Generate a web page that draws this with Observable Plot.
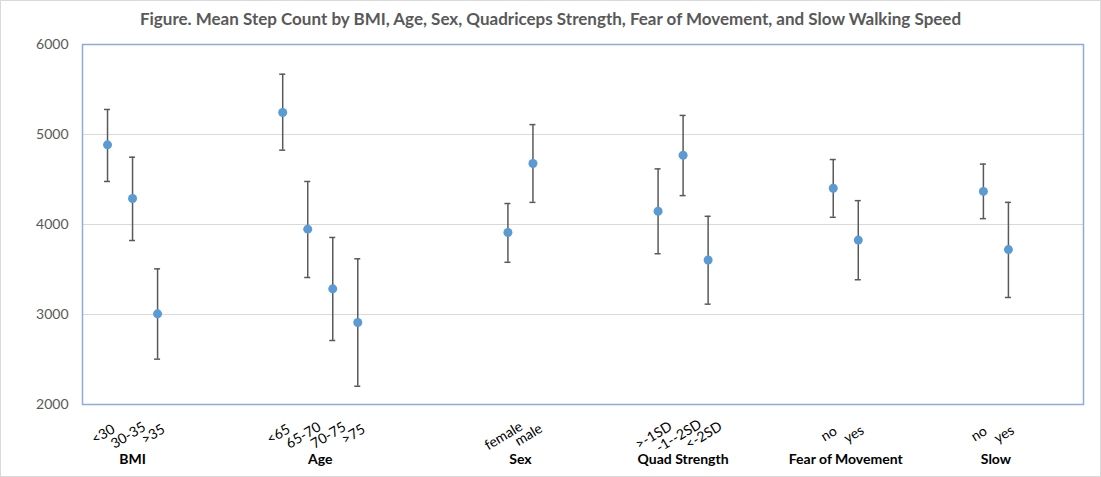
<!DOCTYPE html>
<html>
<head>
<meta charset="utf-8">
<script src="https://cdn.jsdelivr.net/npm/d3@7"></script>
<script src="https://cdn.jsdelivr.net/npm/@observablehq/plot@0.6"></script>
<style>
  body { margin: 0; background: #fff; }
  #wrap { position: relative; width: 1101px; height: 477px; font-family: Lato, "Open Sans", sans-serif; overflow: hidden; }
  #title { height: 30px; box-sizing: border-box; padding-top: 9px; line-height: 20px; text-align: center;
           font-weight: bold; font-size: 17px; color: #595959; }
  #border { position: absolute; left: 0; top: 0; width: 1099px; height: 475px; border: 1px solid #D9D9D9; pointer-events: none; }
  svg { display: block; }
</style>
</head>
<body>
<div id="wrap">
  <div id="title">Figure. Mean Step Count by BMI, Age, Sex, Quadriceps Strength, Fear of Movement, and Slow Walking Speed</div>
  <div id="chart"></div>
  <div id="border"></div>
</div>
<script>
// Category slots of the x axis (empty strings are the blank slots between groups)
const slots = ["", "<30", "30-35", ">35", "", "", "", "",
  "<65", "65-70", "70-75", ">75", "", "", "", "", "",
  "female", "male", "", "", "", "",
  ">-1SD", "-1--2SD", "<-2SD", "", "", "", "",
  "no", "yes", "", "", "", "",
  "no", "yes", "", ""];
const groupNames = ["BMI", "Age", "Sex", "Quad Strength", "Fear of Movement", "Slow"];
const groupSizes = [3, 4, 2, 3, 2, 2];
const meanSteps  = [4885, 4289, 3007, 5244, 3948, 3285, 2911, 3911, 4678, 4147, 4770, 3605, 4403, 3827, 4368, 3721];
const upperSteps = [5278, 4748, 3507, 5670, 4478, 3856, 3619, 4233, 5110, 4618, 5212, 4091, 4722, 4265, 4671, 4246];
const lowerSteps = [4478, 3822, 2504, 4826, 3411, 2711, 2203, 3580, 4246, 3675, 4321, 3115, 4080, 3386, 4065, 3189];
const yTicks = [2000, 3000, 4000, 5000, 6000];

// Build the table
const groupOfIndex = [];
groupSizes.forEach((n, g) => { for (let i = 0; i < n; i++) groupOfIndex.push(groupNames[g]); });
const rows = [];
slots.forEach((label, x) => {
  if (label === "") return;
  const k = rows.length;
  rows.push({ x, label, group: groupOfIndex[k], mean: meanSteps[k], upper: upperSteps[k], lower: lowerSteps[k] });
});
const groupRows = groupNames.map(g => {
  const xs = rows.filter(r => r.group === g).map(r => r.x);
  return { group: g, x: d3.mean(xs) };
});

const capHalf = 0.12;
const labelMarks = rows.map(r => {
  const L = r.label.length * 7;
  return Plot.text([r], {
    x: "x", text: "label", frameAnchor: "bottom", rotate: -31, textAnchor: "middle",
    dx: -2, dy: 32 + Math.min(L, 42) * 0.08, fontSize: 14, fill: "#000"
  });
});

const chart = Plot.plot({
  width: 1101,
  height: 447,
  marginLeft: 82,
  marginRight: 18,
  marginTop: 14,
  marginBottom: 73,
  x: { domain: [0, slots.length], axis: null },
  y: { domain: [2000, 6000], axis: null },
  style: { fontFamily: "Lato, 'Open Sans', sans-serif", background: "white", overflow: "visible" },
  marks: [
    Plot.gridY([3000, 4000, 5000], { stroke: "#D9D9D9", strokeOpacity: 1, strokeWidth: 1 }),
    Plot.frame({ stroke: "#8FAADC", strokeWidth: 1.5 }),
    Plot.axisY(yTicks, { tickSize: 0, tickPadding: 14, fontSize: 14, color: "#595959", label: null, tickFormat: d => String(d) }),
    Plot.ruleX(rows, { x: "x", y1: "lower", y2: "upper", stroke: "#595959", strokeWidth: 1.5 }),
    Plot.ruleY(rows, { y: "upper", x1: d => d.x - capHalf, x2: d => d.x + capHalf, stroke: "#595959", strokeWidth: 1.5 }),
    Plot.ruleY(rows, { y: "lower", x1: d => d.x - capHalf, x2: d => d.x + capHalf, stroke: "#595959", strokeWidth: 1.5 }),
    Plot.dot(rows, { x: "x", y: "mean", r: 4.5, fill: "#5B9BD5", stroke: "none" }),
    ...labelMarks,
    Plot.text(groupRows, { x: "x", text: "group", frameAnchor: "bottom", dy: 59, fontSize: 14, fontWeight: "bold", fill: "#000" })
  ]
});
document.getElementById("chart").appendChild(chart);
</script>
</body>
</html>
